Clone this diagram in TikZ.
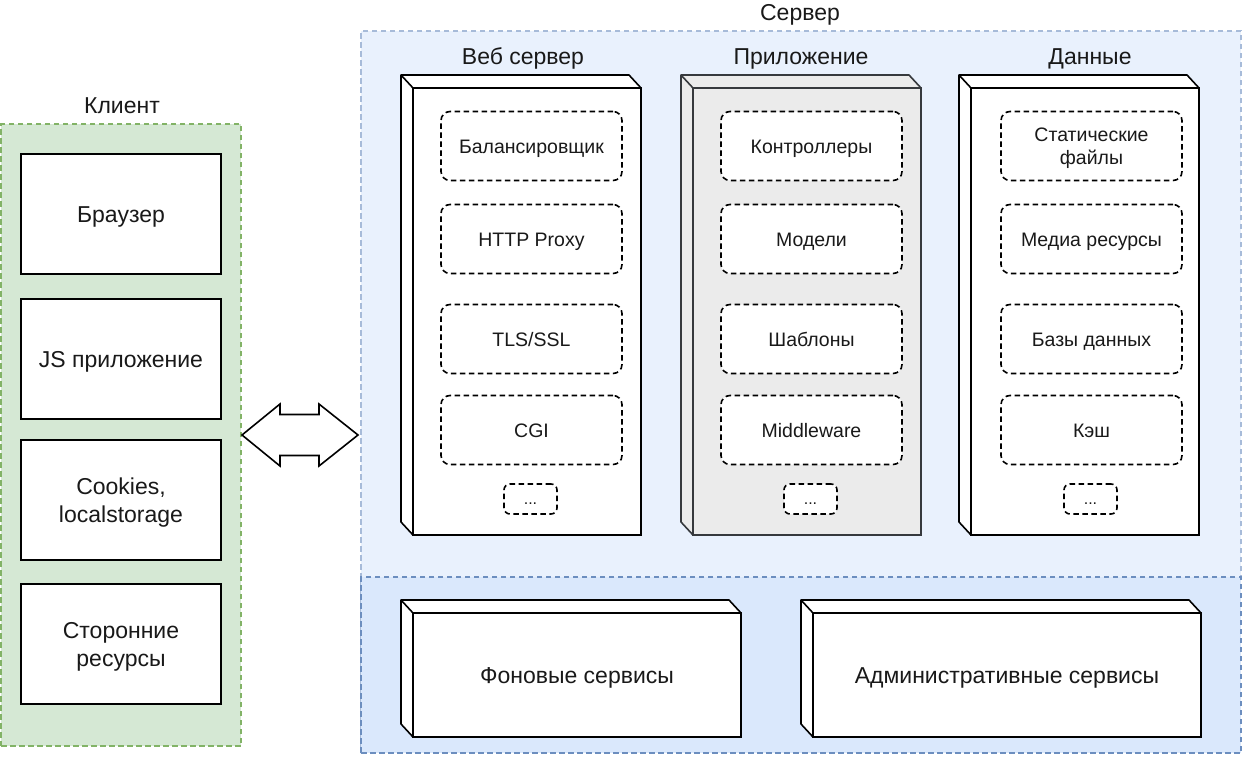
\documentclass[tikz,border=0pt]{standalone}
\usepackage{fontspec}
\setmainfont{Liberation Sans}
\usetikzlibrary{positioning}

\definecolor{cliFill}{HTML}{D5E8D4}
\definecolor{cliLine}{HTML}{82B366}
\definecolor{srvFill}{HTML}{E9F1FD}
\definecolor{srvLine}{HTML}{A7BBD9}
\definecolor{bandFill}{HTML}{DAE8FC}
\definecolor{bandLine}{HTML}{6C8EBF}
\definecolor{appFill}{HTML}{EBEBEB}
\definecolor{appLine}{HTML}{36393D}

\begin{document}
\begin{tikzpicture}[x=1pt,y=-1pt,
    every node/.style={text=black!90, font=\fontsize{23}{27.5}\selectfont},
    group/.style={draw, line width=1.6pt, dash pattern=on 5.5pt off 3.5pt, inner sep=0, outer sep=0},
    plain/.style={draw, line width=1.6pt, fill=white, align=center, inner sep=0,
        minimum width=200pt, minimum height=120pt, text height=16.5pt, text depth=0pt},
    front/.style={draw, line width=1.6pt, fill=white, inner sep=0, outer sep=0, align=center,
        minimum width=228pt, minimum height=447pt, text height=16.5pt, text depth=0pt},
    side/.style={line width=1.6pt, line join=round},
    part/.style={draw, line width=1.6pt, dash pattern=on 5.5pt off 3.5pt, rounded corners=9pt,
        fill=white, align=center, inner sep=0, minimum width=181pt, minimum height=69pt,
        font=\fontsize{19.5}{23.5}\selectfont, text height=14pt, text depth=0pt},
    more/.style={part, minimum width=53pt, minimum height=30pt, rounded corners=6pt,
        font=\fontsize{16}{18}\selectfont, text height=11pt},
    title/.style={anchor=base}
  ]
  \useasboundingbox (0,0) rectangle (1242,758);

  % client side
  \node[group, fill=cliFill, draw=cliLine, minimum width=240pt, minimum height=622pt] (client) at (121,435) {};
  \node[title] (clientlbl) at (122,113) {Клиент};
  \node[plain] (browser) at (121,214) {Браузер};
  \node[plain] (jsapp) at (121,359) {JS приложение};
  \node[plain, text height=44pt] (cookies) at (121,500) {Cookies,\\localstorage};
  \node[plain, text height=44pt] (extres) at (121,644) {Сторонние\\ресурсы};

  % server side
  \node[group, fill=srvFill, draw=srvLine, minimum width=880pt, minimum height=722pt] (server) at (801,392) {};
  \node[group, fill=bandFill, draw=bandLine, minimum width=880pt, minimum height=176pt] (band) at (801,665) {};
  \node[title] (serverlbl) at (800,20) {Сервер};

  \node[front] (web) at (527,311.5) {};
  \node[front, fill=appFill, draw=appLine] (app) at (807,311.5) {};
  \node[front] (dat) at (1085,311.5) {};
  \node[front, minimum width=328pt, minimum height=124pt] (bg) at (577,675) {Фоновые сервисы};
  \node[front, minimum width=388pt, minimum height=124pt] (adm) at (1007,675) {Административные сервисы};

  \foreach \b/\w/\h/\f/\d in {web/228/447/white/black, app/228/447/appFill/appLine,
      dat/228/447/white/black, bg/328/124/white/black, adm/388/124/white/black}
    \filldraw[side, fill=\f, draw=\d] (\b.north west) -- ++(-12,-13) -- ++(\w,0) -- (\b.north east) -- cycle
      (\b.north west) -- ++(-12,-13) -- ++(0,\h) -- (\b.south west) -- cycle;

  \node[title] (weblbl) at (523,64) {Веб сервер};
  \node[title] (applbl) at (801,64) {Приложение};
  \node[title] (datlbl) at (1090,64) {Данные};

  % web server
  \node[part] (bal) at (531.5,146) {Балансировщик};
  \node[part] (proxy) at (531.5,239) {HTTP Proxy};
  \node[part] (tls) at (531.5,339) {TLS/SSL};
  \node[part] (cgi) at (531.5,430) {CGI};
  \node[more] (webmore) at (530.5,499) {...};

  % application
  \node[part] (ctrl) at (811.5,146) {Контроллеры};
  \node[part] (model) at (811.5,239) {Модели};
  \node[part] (tmpl) at (811.5,339) {Шаблоны};
  \node[part] (mware) at (811.5,430) {Middleware};
  \node[more] (appmore) at (810.5,499) {...};

  % data
  \node[part, text height=37.5pt] (stat) at (1091.5,146) {Статические\\файлы};
  \node[part] (media) at (1091.5,239) {Медиа ресурсы};
  \node[part] (db) at (1091.5,339) {Базы данных};
  \node[part] (cache) at (1091.5,430) {Кэш};
  \node[more] (datmore) at (1090.5,499) {...};

  % client <-> server
  \draw[line width=1.6pt, fill=white, line join=miter] ([xshift=1pt]client.east) -- ++(38,-31) -- ++(0,10.5)
    -- ++(39,0) -- ++(0,-10.5) -- ++(39,31) -- ++(-39,31) -- ++(0,-10.5) -- ++(-39,0) -- ++(0,10.5) -- cycle;
\end{tikzpicture}
\end{document}
